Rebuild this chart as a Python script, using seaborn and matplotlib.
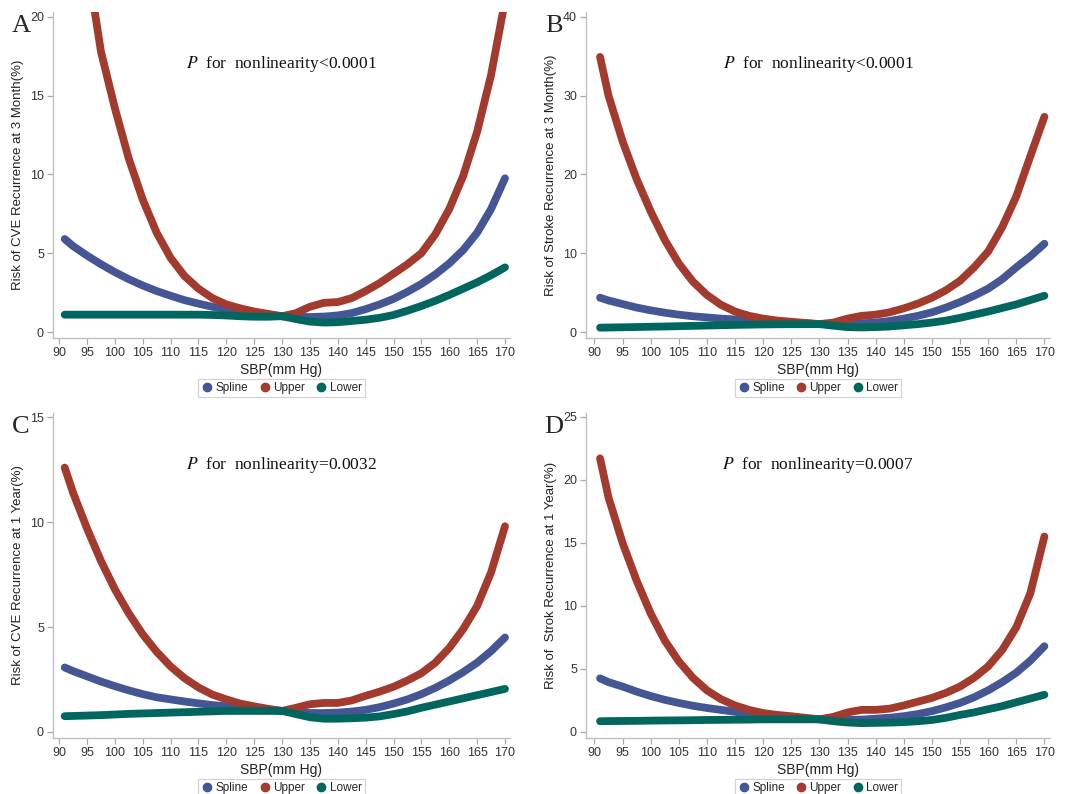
import matplotlib
matplotlib.use("Agg")
import matplotlib.pyplot as plt
from matplotlib.lines import Line2D
import seaborn as sns
import pandas as pd

# SBP grid
sbp = [91, 92.5, 95, 97.5, 100, 102.5, 105, 107.5, 110, 112.5, 115, 117.5, 120,
       122.5, 125, 127.5, 130, 132.5, 135, 137.5, 140, 142.5, 145, 147.5, 150,
       152.5, 155, 157.5, 160, 162.5, 165, 167.5, 170]

# A: CVE recurrence at 3 months
spline_a = [5.9, 5.45, 4.85, 4.3, 3.8, 3.35, 2.95, 2.6, 2.3, 2.02, 1.8, 1.6, 1.45,
            1.3, 1.17, 1.08, 1.0, 0.96, 0.95, 0.98, 1.05, 1.2, 1.45, 1.75, 2.1,
            2.55, 3.05, 3.65, 4.35, 5.2, 6.3, 7.8, 9.75]
upper_a = [36, 30, 23.5, 17.8, 14.2, 11.0, 8.4, 6.3, 4.7, 3.55, 2.75, 2.15, 1.75,
           1.5, 1.3, 1.15, 1.0, 1.2, 1.6, 1.85, 1.9, 2.15, 2.6, 3.1, 3.7,
           4.3, 5.0, 6.2, 7.8, 9.9, 12.7, 16.3, 21]
lower_a = [1.1, 1.1, 1.1, 1.1, 1.1, 1.1, 1.1, 1.1, 1.1, 1.1, 1.1, 1.08, 1.05,
           1.0, 0.97, 0.97, 1.0, 0.82, 0.66, 0.6, 0.62, 0.7, 0.78, 0.9, 1.08,
           1.35, 1.65, 1.98, 2.35, 2.75, 3.15, 3.6, 4.1]

# B: stroke recurrence at 3 months
spline_b = [4.35, 4.0, 3.55, 3.1, 2.75, 2.45, 2.2, 2.0, 1.85, 1.7, 1.6, 1.5, 1.4,
            1.3, 1.2, 1.1, 1.0, 1.0, 1.02, 1.1, 1.2, 1.4, 1.7, 2.05, 2.5,
            3.1, 3.8, 4.6, 5.5, 6.7, 8.2, 9.6, 11.2]
upper_b = [34.9, 30.0, 24.2, 19.4, 15.3, 11.7, 8.7, 6.4, 4.7, 3.45, 2.6, 2.05, 1.7,
           1.45, 1.3, 1.15, 1.0, 1.2, 1.7, 2.05, 2.2, 2.5, 3.0, 3.6, 4.35,
           5.3, 6.5, 8.2, 10.2, 13.3, 17.2, 22.3, 27.3]
lower_b = [0.55, 0.57, 0.6, 0.63, 0.67, 0.7, 0.74, 0.78, 0.82, 0.86, 0.9, 0.93, 0.96,
           0.98, 0.99, 0.99, 1.0, 0.8, 0.62, 0.58, 0.62, 0.7, 0.85, 1.0, 1.2,
           1.45, 1.8, 2.2, 2.6, 3.05, 3.5, 4.05, 4.6]

# C: CVE recurrence at 1 year
spline_c = [3.07, 2.9, 2.65, 2.4, 2.18, 1.98, 1.8, 1.65, 1.55, 1.45, 1.36, 1.28, 1.22,
            1.15, 1.1, 1.05, 1.0, 0.94, 0.9, 0.9, 0.92, 0.97, 1.05, 1.18, 1.35,
            1.55, 1.8, 2.1, 2.45, 2.85, 3.3, 3.85, 4.5]
upper_c = [12.6, 11.4, 9.7, 8.15, 6.8, 5.65, 4.65, 3.82, 3.12, 2.56, 2.12, 1.78, 1.55,
           1.35, 1.22, 1.1, 1.0, 1.15, 1.32, 1.38, 1.38, 1.5, 1.72, 1.92, 2.15,
           2.45, 2.8, 3.3, 4.0, 4.9, 6.0, 7.6, 9.8]
lower_c = [0.75, 0.76, 0.78, 0.8, 0.83, 0.86, 0.88, 0.9, 0.92, 0.94, 0.96, 0.98, 1.0,
           1.0, 1.0, 1.0, 1.0, 0.85, 0.7, 0.63, 0.63, 0.65, 0.68, 0.74, 0.85,
           0.98, 1.15, 1.3, 1.45, 1.6, 1.75, 1.9, 2.05]

# D: stroke recurrence at 1 year
spline_d = [4.25, 3.95, 3.6, 3.2, 2.85, 2.55, 2.3, 2.08, 1.9, 1.75, 1.6, 1.45, 1.32,
            1.22, 1.15, 1.07, 1.0, 0.96, 0.95, 0.98, 1.05, 1.13, 1.25, 1.42, 1.65,
            1.95, 2.3, 2.75, 3.3, 3.95, 4.7, 5.65, 6.8]
upper_d = [21.7, 18.6, 15.0, 12.0, 9.4, 7.25, 5.6, 4.3, 3.3, 2.6, 2.1, 1.75, 1.5,
           1.35, 1.25, 1.12, 1.0, 1.2, 1.55, 1.75, 1.75, 1.85, 2.1, 2.4, 2.7,
           3.1, 3.6, 4.3, 5.2, 6.5, 8.3, 11.0, 15.5]
lower_d = [0.85, 0.86, 0.87, 0.88, 0.9, 0.91, 0.92, 0.93, 0.95, 0.96, 0.97, 0.98, 1.0,
           1.0, 1.0, 1.0, 1.0, 0.85, 0.75, 0.7, 0.72, 0.74, 0.78, 0.85, 0.95,
           1.12, 1.35, 1.55, 1.8, 2.05, 2.35, 2.65, 2.95]

curve_names = ["Spline", "Upper", "Lower"]
colors = {"Spline": "#445694", "Upper": "#A23A2E", "Lower": "#01665E"}

panels = [
    ("A", spline_a, upper_a, lower_a, "Risk of CVE Recurrence at 3 Month(%)",
     "<0.0001", [0, 5, 10, 15, 20], (-0.38, 20.3), (88.9, 170.9)),
    ("B", spline_b, upper_b, lower_b, "Risk of Stroke Recurrence at 3 Month(%)",
     "<0.0001", [0, 10, 20, 30, 40], (-0.76, 40.6), (88.5, 171.0)),
    ("C", spline_c, upper_c, lower_c, "Risk of CVE Recurrence at 1 Year(%)",
     "=0.0032", [0, 5, 10, 15], (-0.29, 15.2), (88.9, 170.9)),
    ("D", spline_d, upper_d, lower_d, "Risk of  Strok Recurrence at 1 Year(%)",
     "=0.0007", [0, 5, 10, 15, 20, 25], (-0.48, 25.3), (88.5, 171.0)),
]

sns.set_style("ticks")
plt.rcParams["font.family"] = ["Liberation Sans", "DejaVu Sans"]
plt.rcParams["mathtext.fontset"] = "stix"

fig = plt.figure(figsize=(10.65, 7.94), dpi=100)
W, H = 1065, 794
boxes = [(53, 510, 12, 338), (586, 1050, 12, 338),
         (53, 510, 413, 738), (586, 1050, 413, 738)]

for (letter, sp, up, lo, ylab, ptxt, yticks, ylim, xlim), (l, r, t, b) in zip(panels, boxes):
    ax = fig.add_axes([l / W, 1 - b / H, (r - l) / W, (b - t) / H])
    df = pd.DataFrame({
        "SBP": sbp * 3,
        "risk": sp + up + lo,
        "curve": ["Spline"] * len(sbp) + ["Upper"] * len(sbp) + ["Lower"] * len(sbp),
    })
    sns.lineplot(data=df, x="SBP", y="risk", hue="curve", hue_order=curve_names,
                 palette=colors, lw=5.6, estimator=None, legend=False, ax=ax,
                 solid_capstyle="round", solid_joinstyle="round")
    ax.set_xlim(*xlim)
    ax.set_ylim(*ylim)
    ax.set_xticks(range(90, 171, 5))
    ax.set_yticks(yticks)
    ax.tick_params(colors="#a8a8a8", labelcolor="#333333", labelsize=9,
                   length=4, width=0.9, pad=2.5)
    sns.despine(ax=ax)
    for s in ("left", "bottom"):
        ax.spines[s].set_color("#c0c0c0")
        ax.spines[s].set_linewidth(1.0)
    ax.set_xlabel("SBP(mm Hg)", fontsize=10, color="#222222", labelpad=3)
    ax.set_ylabel(ylab, fontsize=9.5, color="#222222", labelpad=4)

    ax.text(0.5, 0.84, r"$\mathit{P}$" + "  for  nonlinearity" + ptxt,
            transform=ax.transAxes, ha="center", va="center", fontsize=12.5,
            family=["Liberation Serif", "DejaVu Serif"], color="#111111")
    fig.text((l - 32) / W, 1 - (t + 14) / H, letter, ha="center", va="center",
             fontsize=19, family=["Liberation Serif", "DejaVu Serif"])

    handles = [Line2D([], [], ls="none", marker="o", ms=6, color=colors[c]) for c in curve_names]
    leg = ax.legend(handles, curve_names, loc="center", bbox_to_anchor=(0.5, -0.153),
                    ncol=3, fontsize=8.5, frameon=True, fancybox=False,
                    handletextpad=0.2, columnspacing=0.9, borderpad=0.25,
                    handlelength=1.0, borderaxespad=0)
    leg.get_frame().set_edgecolor("#c8c8c8")
    leg.get_frame().set_linewidth(0.9)

fig.savefig("out.png", dpi=100)
